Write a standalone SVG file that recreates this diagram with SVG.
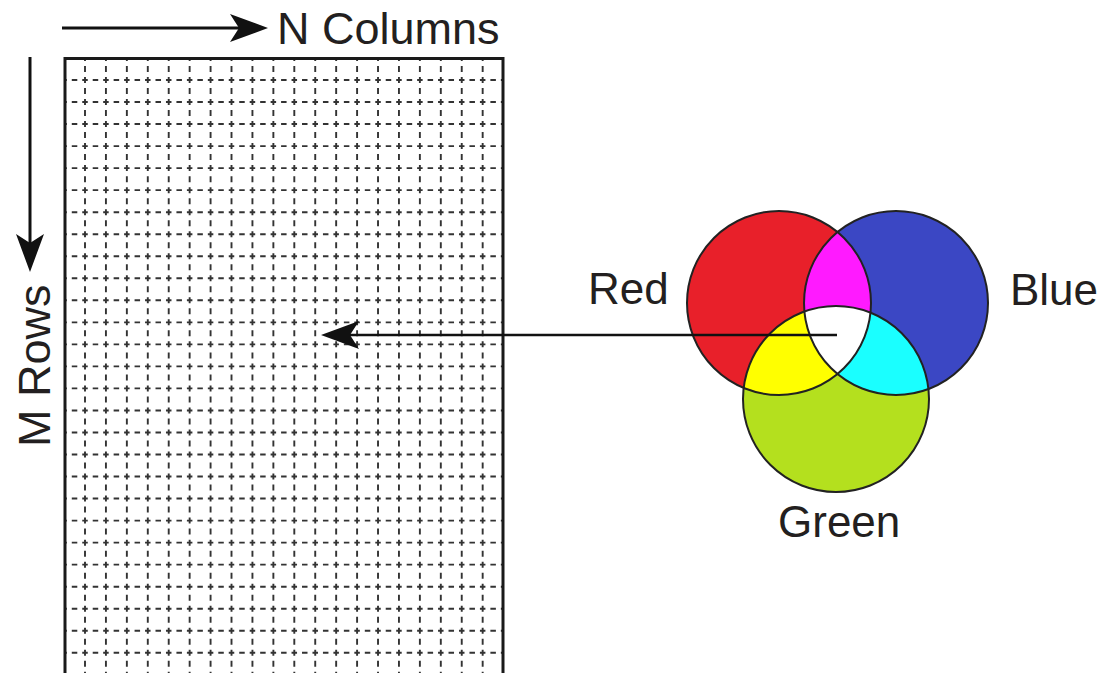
<svg xmlns="http://www.w3.org/2000/svg" width="1106" height="673" viewBox="0 0 1106 673">
  <style>
    .label { font-family: "Liberation Sans", Arial, sans-serif; font-size: 44px; fill: #231f20; }
    .hline { stroke: #333; stroke-width: 1.9; stroke-dasharray: 5.5 4.965; stroke-dashoffset: 4.68; fill: none; }
    .vline { stroke: #333; stroke-width: 1.9; stroke-dasharray: 6 5.015; stroke-dashoffset: 5.03; fill: none; }
    .conn { stroke: #111; stroke-width: 3; fill: none; marker-end: url(#head); }
    .ring { fill: none; stroke: #222; stroke-width: 2; }
  </style>
  <defs>
    <marker id="head" viewBox="0 0 38 28" refX="9" refY="14" markerWidth="38" markerHeight="28" markerUnits="userSpaceOnUse" orient="auto">
      <path d="M0,0 L38,14 L0,28 L9,14 Z" fill="#111"/>
    </marker>
    <clipPath id="clipRed"><circle cx="779" cy="303" r="92"/></clipPath>
    <clipPath id="clipBlue"><circle cx="896" cy="303" r="92"/></clipPath>
    <clipPath id="clipGreen"><circle cx="836" cy="399" r="93"/></clipPath>
  </defs>

  <!-- pixel matrix: M rows by N columns -->
  <g id="matrix">
    <g id="grid-rows">
      <line class="hline" x1="66" y1="80" x2="502" y2="80"/>
      <line class="hline" x1="66" y1="102.03" x2="502" y2="102.03"/>
      <line class="hline" x1="66" y1="124.06" x2="502" y2="124.06"/>
      <line class="hline" x1="66" y1="146.09" x2="502" y2="146.09"/>
      <line class="hline" x1="66" y1="168.12" x2="502" y2="168.12"/>
      <line class="hline" x1="66" y1="190.15" x2="502" y2="190.15"/>
      <line class="hline" x1="66" y1="212.18" x2="502" y2="212.18"/>
      <line class="hline" x1="66" y1="234.21" x2="502" y2="234.21"/>
      <line class="hline" x1="66" y1="256.24" x2="502" y2="256.24"/>
      <line class="hline" x1="66" y1="278.27" x2="502" y2="278.27"/>
      <line class="hline" x1="66" y1="300.3" x2="502" y2="300.3"/>
      <line class="hline" x1="66" y1="322.33" x2="502" y2="322.33"/>
      <line class="hline" x1="66" y1="344.36" x2="502" y2="344.36"/>
      <line class="hline" x1="66" y1="366.39" x2="502" y2="366.39"/>
      <line class="hline" x1="66" y1="388.42" x2="502" y2="388.42"/>
      <line class="hline" x1="66" y1="410.45" x2="502" y2="410.45"/>
      <line class="hline" x1="66" y1="432.48" x2="502" y2="432.48"/>
      <line class="hline" x1="66" y1="454.51" x2="502" y2="454.51"/>
      <line class="hline" x1="66" y1="476.54" x2="502" y2="476.54"/>
      <line class="hline" x1="66" y1="498.57" x2="502" y2="498.57"/>
      <line class="hline" x1="66" y1="520.6" x2="502" y2="520.6"/>
      <line class="hline" x1="66" y1="542.63" x2="502" y2="542.63"/>
      <line class="hline" x1="66" y1="564.66" x2="502" y2="564.66"/>
      <line class="hline" x1="66" y1="586.69" x2="502" y2="586.69"/>
      <line class="hline" x1="66" y1="608.72" x2="502" y2="608.72"/>
      <line class="hline" x1="66" y1="630.75" x2="502" y2="630.75"/>
      <line class="hline" x1="66" y1="652.78" x2="502" y2="652.78"/>
    </g>
    <g id="grid-columns">
      <line class="vline" x1="85" y1="60" x2="85" y2="673"/>
      <line class="vline" x1="105.93" y1="60" x2="105.93" y2="673"/>
      <line class="vline" x1="126.86" y1="60" x2="126.86" y2="673"/>
      <line class="vline" x1="147.79" y1="60" x2="147.79" y2="673"/>
      <line class="vline" x1="168.72" y1="60" x2="168.72" y2="673"/>
      <line class="vline" x1="189.65" y1="60" x2="189.65" y2="673"/>
      <line class="vline" x1="210.58" y1="60" x2="210.58" y2="673"/>
      <line class="vline" x1="231.51" y1="60" x2="231.51" y2="673"/>
      <line class="vline" x1="252.44" y1="60" x2="252.44" y2="673"/>
      <line class="vline" x1="273.37" y1="60" x2="273.37" y2="673"/>
      <line class="vline" x1="294.3" y1="60" x2="294.3" y2="673"/>
      <line class="vline" x1="315.23" y1="60" x2="315.23" y2="673"/>
      <line class="vline" x1="336.16" y1="60" x2="336.16" y2="673"/>
      <line class="vline" x1="357.09" y1="60" x2="357.09" y2="673"/>
      <line class="vline" x1="378.02" y1="60" x2="378.02" y2="673"/>
      <line class="vline" x1="398.95" y1="60" x2="398.95" y2="673"/>
      <line class="vline" x1="419.88" y1="60" x2="419.88" y2="673"/>
      <line class="vline" x1="440.81" y1="60" x2="440.81" y2="673"/>
      <line class="vline" x1="461.74" y1="60" x2="461.74" y2="673"/>
      <line class="vline" x1="482.67" y1="60" x2="482.67" y2="673"/>
    </g>
    <!-- frame: open at the bottom edge -->
    <path d="M65,675 L65,58.5 L503,58.5 L503,675" fill="none" stroke="#1a1a1a" stroke-width="3"/>
  </g>

  <!-- axis labels -->
  <g id="label-columns">
    <text class="label" x="277" y="44" style="font-size:45px">N Columns</text>
  </g>
  <g id="label-rows">
    <text class="label" transform="translate(50,447) rotate(-90)" style="font-size:45px">M Rows</text>
  </g>

  <!-- RGB colour mixing circles -->
  <g id="rgb-venn">
    <circle cx="779" cy="303" r="92" fill="#e8202a"/>
    <circle cx="896" cy="303" r="92" fill="#3b47c4"/>
    <circle cx="836" cy="399" r="93" fill="#b4e01e"/>
    <!-- pairwise overlaps -->
    <g clip-path="url(#clipRed)"><circle cx="896" cy="303" r="92" fill="#ff1aff"/></g>
    <g clip-path="url(#clipRed)"><circle cx="836" cy="399" r="93" fill="#ffff00"/></g>
    <g clip-path="url(#clipBlue)"><circle cx="836" cy="399" r="93" fill="#1affff"/></g>
    <!-- triple overlap -->
    <g clip-path="url(#clipRed)"><g clip-path="url(#clipBlue)"><circle cx="836" cy="399" r="93" fill="#ffffff"/></g></g>
    <circle class="ring" cx="779" cy="303" r="92"/>
    <circle class="ring" cx="896" cy="303" r="92"/>
    <circle class="ring" cx="836" cy="399" r="93"/>
  </g>
  <g id="label-red"><text class="label" x="588" y="304">Red</text></g>
  <g id="label-blue"><text class="label" x="1010" y="305">Blue</text></g>
  <g id="label-green"><text class="label" x="778" y="537">Green</text></g>

  <!-- connectors -->
  <g id="connectors">
    <line class="conn" x1="62" y1="28" x2="239" y2="28"/>
    <line class="conn" x1="30" y1="57" x2="30" y2="243"/>
    <line class="conn" x1="837" y1="335" x2="350" y2="335" style="stroke-width:2.5"/>
  </g>
</svg>
